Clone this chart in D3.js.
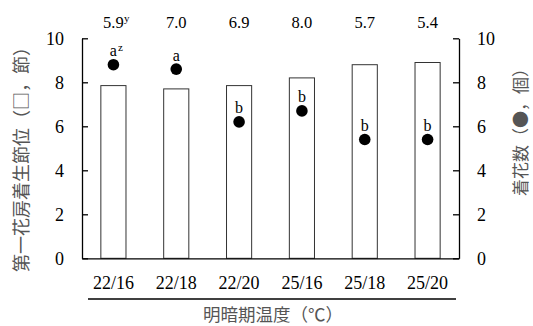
<!DOCTYPE html>
<html>
<head>
<meta charset="utf-8">
<script src="https://cdn.jsdelivr.net/npm/d3@7"></script>
<style>
  html, body { margin: 0; padding: 0; background: #fff; }
  svg { display: block; }
</style>
</head>
<body>
<svg id="chart" width="533" height="326"></svg>
<script>
// Day/night temperature treatments
const categories = ["22/16", "22/18", "22/20", "25/16", "25/18", "25/20"];
// First truss node position (bars, left axis)
const nodePosition = [7.85, 7.7, 7.85, 8.2, 8.8, 8.9];
// Number of flowers (dots, right axis)
const flowerCount = [8.8, 8.6, 6.2, 6.7, 5.4, 5.4];
// Significance letters for flower count
const sigLetters = ["a", "a", "b", "b", "b", "b"];
const sigSup = ["z", "", "", "", "", ""];
// Values printed above each treatment
const topValues = ["5.9", "7.0", "6.9", "8.0", "5.7", "5.4"];
const topSup = ["y", "", "", "", "", ""];
const yTicks = [0, 2, 4, 6, 8, 10];

const svg = d3.select("#chart");
const plotLeft = 82, plotRight = 459, plotTop = 38.3, plotBottom = 258.3;
const serif = "Liberation Serif";
const cjk = "Noto Sans CJK JP";

const x = d3.scaleBand().domain(categories).range([plotLeft, plotRight]).paddingInner(0.6).paddingOuter(0.3);
const yL = d3.scaleLinear().domain([0, 10]).range([plotBottom, plotTop]);
const yR = d3.scaleLinear().domain([0, 10]).range([plotBottom, plotTop]);

// Bars
svg.append("g").selectAll("rect").data(categories).join("rect")
  .attr("x", d => x(d))
  .attr("y", (d, i) => yL(nodePosition[i]))
  .attr("width", x.bandwidth())
  .attr("height", (d, i) => plotBottom - yL(nodePosition[i]))
  .attr("fill", "#fff")
  .attr("stroke", "#333")
  .attr("stroke-width", 1);

// Left axis
const gL = svg.append("g").attr("transform", `translate(${plotLeft},0)`)
  .call(d3.axisLeft(yL).tickValues(yTicks).tickSizeInner(-6).tickSizeOuter(0).tickPadding(18));
// Right axis
const gR = svg.append("g").attr("transform", `translate(${plotRight},0)`)
  .call(d3.axisRight(yR).tickValues(yTicks).tickSizeInner(-6).tickSizeOuter(0).tickPadding(18));
[gL, gR].forEach(g => {
  g.attr("font-family", serif).attr("font-size", 18);
  g.select(".domain").attr("stroke", "#000").attr("stroke-width", 1.3);
  g.selectAll(".tick line").attr("stroke", "#000").attr("stroke-width", 1.3);
  g.selectAll(".tick text").attr("fill", "#000");
});

// Bottom axis
const gB = svg.append("g").attr("transform", `translate(0,${plotBottom})`)
  .call(d3.axisBottom(x).tickSize(0).tickPadding(18));
gB.attr("font-family", serif).attr("font-size", 18);
gB.select(".domain").attr("stroke", "#000").attr("stroke-width", 1.3);
gB.selectAll(".tick text").attr("fill", "#000");

// Dots
svg.append("g").selectAll("circle").data(categories).join("circle")
  .attr("cx", d => x(d) + x.bandwidth() / 2)
  .attr("cy", (d, i) => yR(flowerCount[i]))
  .attr("r", 5.8)
  .attr("fill", "#000");

// Significance letters
const lg = svg.append("g").attr("font-family", serif).attr("fill", "#000");
categories.forEach((c, i) => {
  const cx = x(c) + x.bandwidth() / 2;
  const cy = yR(flowerCount[i]);
  lg.append("text").attr("x", cx).attr("y", cy - 8.5)
    .attr("text-anchor", "middle").attr("font-size", 16).text(sigLetters[i]);
  if (sigSup[i]) {
    lg.append("text").attr("x", cx + 4.5).attr("y", cy - 14)
      .attr("font-size", 11).text(sigSup[i]);
  }
});

// Values above the plot
const tg = svg.append("g").attr("font-family", serif).attr("fill", "#000");
categories.forEach((c, i) => {
  const cx = x(c) + x.bandwidth() / 2;
  tg.append("text").attr("x", cx).attr("y", 28)
    .attr("text-anchor", "middle").attr("font-size", 16.5).text(topValues[i]);
  if (topSup[i]) {
    tg.append("text").attr("x", cx + 10.5).attr("y", 22)
      .attr("font-size", 11).text(topSup[i]);
  }
});

// Grouping line under category labels
svg.append("line").attr("x1", 88).attr("x2", 456).attr("y1", 299).attr("y2", 299)
  .attr("stroke", "#000").attr("stroke-width", 1.3);

// Axis titles
svg.append("text").attr("x", 273).attr("y", 321).attr("text-anchor", "middle")
  .attr("font-family", cjk).attr("font-size", 17.5).attr("fill", "#555")
  .text("明暗期温度（℃）");
svg.append("text").attr("transform", "translate(28,155) rotate(-90)").attr("text-anchor", "middle")
  .attr("font-family", cjk).attr("font-size", 18).attr("fill", "#555")
  .text("第一花房着生節位（□，節）");
svg.append("text").attr("transform", "translate(527,128) rotate(-90)").attr("text-anchor", "middle")
  .attr("font-family", cjk).attr("font-size", 17).attr("fill", "#555")
  .text("着花数（●，個）");
</script>
</body>
</html>
